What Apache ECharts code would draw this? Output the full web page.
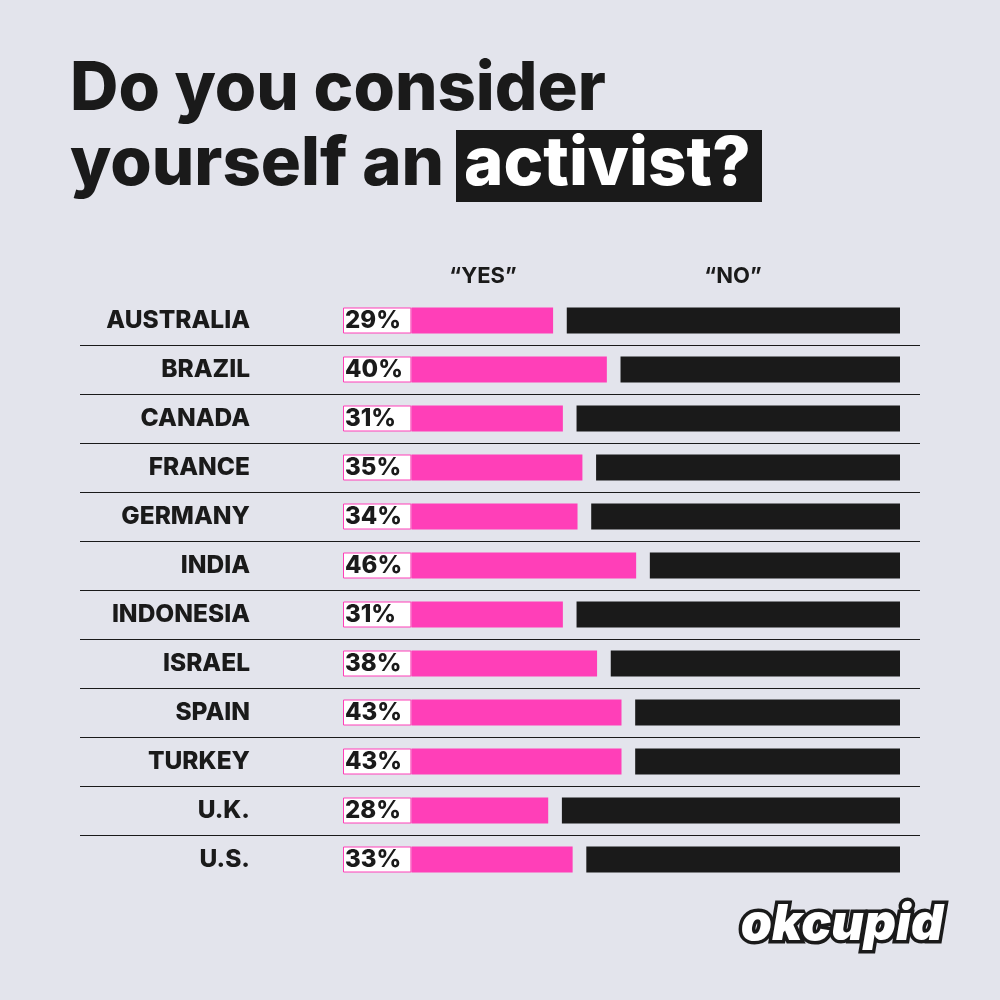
<!DOCTYPE html><html><head><meta charset="utf-8"><script src="https://cdn.jsdelivr.net/npm/echarts@6/dist/echarts.min.js"></script>
<style>html,body{margin:0;background:#e3e4ec}#c{width:1000px;height:1000px}</style></head><body><div id="c"></div><script>
const countries=["AUSTRALIA","BRAZIL","CANADA","FRANCE","GERMANY","INDIA","INDONESIA","ISRAEL","SPAIN","TURKEY","U.K.","U.S."];
const yesVals=[29,40,31,35,34,46,31,38,43,43,28,33];
const noVals=yesVals.map(v=>100-v);
const GAP=2.8, BOX=14;
const F='Inter, "Liberation Sans", sans-serif';
const c=echarts.init(document.getElementById('c'));
c.setOption({backgroundColor:'#e3e4ec',animation:false,
grid:[{left:343,right:100,top:296,bottom:116},{left:80,right:80,top:345,bottom:165}],
xAxis:[{type:'value',min:0,max:100+BOX,show:false},{type:'value',gridIndex:1,show:false}],
yAxis:[{type:'category',data:countries,inverse:true,axisLine:{show:false},axisTick:{show:false},
 axisLabel:{margin:93,color:'#1a1a1a',fontSize:24.5,fontWeight:800,fontFamily:F}},
 {type:'value',gridIndex:1,min:0,max:10,interval:1,axisLine:{show:false},axisTick:{show:false},axisLabel:{show:false},
 splitLine:{show:true,lineStyle:{color:'#1a1a1a',width:1.2}}}],
series:[
{type:'bar',stack:'s',barWidth:26,data:yesVals.map(()=>BOX),itemStyle:{color:'#fff',borderColor:'#ff3fb8',borderWidth:1},
 label:{show:true,position:'insideLeft',offset:[-3,0],formatter:p=>yesVals[p.dataIndex]+'%',color:'#1a1a1a',fontSize:24,fontWeight:800,fontFamily:F}},
{type:'bar',stack:'s',data:yesVals,itemStyle:{color:'#ff3fb8'}},
{type:'bar',stack:'s',data:yesVals.map(()=>GAP),itemStyle:{color:'rgba(0,0,0,0)'}},
{type:'bar',stack:'s',data:noVals.map(v=>v-GAP),itemStyle:{color:'#1a1a1a'}}
],
graphic:[
{type:'text',left:70,top:56,style:{text:'Do you consider',fontSize:67,fontWeight:800,fontFamily:F,fill:'#1a1a1a'}},
{type:'rect',shape:{x:456,y:130,width:306,height:72},style:{fill:'#1a1a1a'}},
{type:'text',left:70,top:131,style:{text:'yourself an',fontSize:67,fontWeight:800,fontFamily:F,fill:'#1a1a1a'}},
{type:'text',left:464,top:131,style:{text:'activist?',fontSize:67,fontWeight:800,fontFamily:F,fill:'#fff'}},
{type:'text',x:483,y:276,style:{text:'“YES”',fontSize:22,fontWeight:700,fontFamily:F,fill:'#1a1a1a',align:'center',verticalAlign:'middle'}},
{type:'text',x:733,y:276,style:{text:'“NO”',fontSize:22,fontWeight:700,fontFamily:F,fill:'#1a1a1a',align:'center',verticalAlign:'middle'}},
{type:'text',x:842,y:925,style:{text:'okcupid',fontSize:50,fontWeight:900,fontStyle:'italic',fontFamily:F,fill:'#fff',stroke:'#1a1a1a',lineWidth:7,align:'center',verticalAlign:'middle'}}
]});
</script></body></html>
